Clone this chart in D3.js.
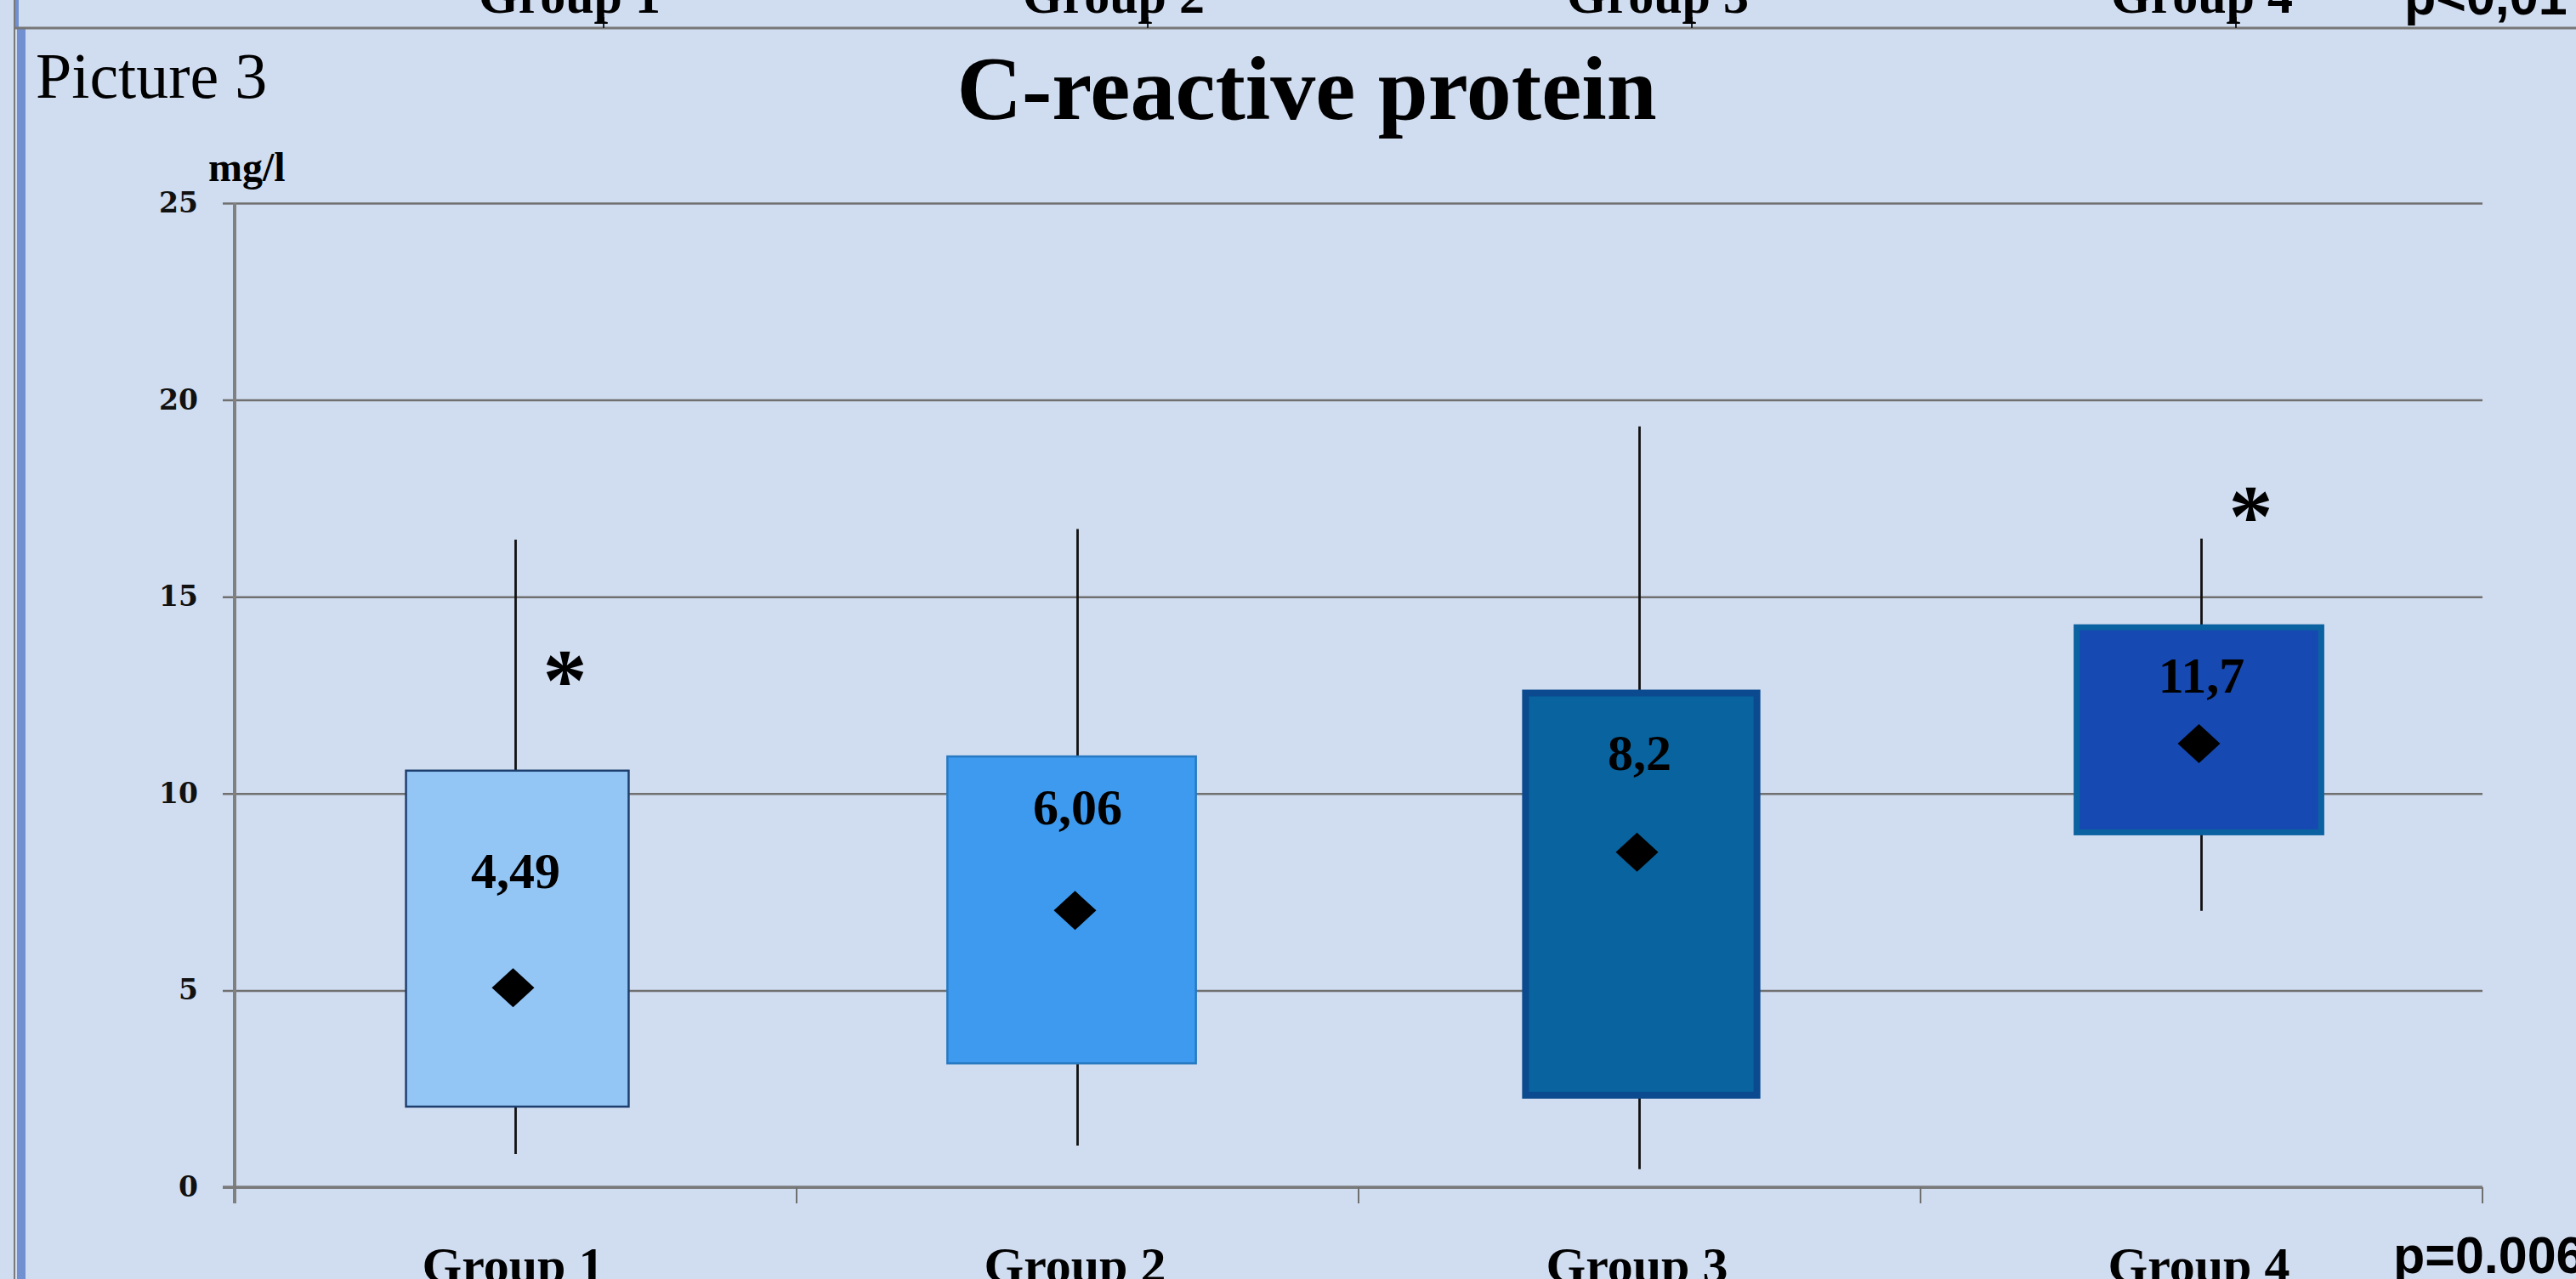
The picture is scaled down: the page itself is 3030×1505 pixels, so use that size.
<!DOCTYPE html>
<html>
<head>
<meta charset="utf-8">
<title>C-reactive protein</title>
<style>
  html, body { margin: 0; padding: 0; background: #d0dcef; }
  svg { display: block; }
  .serif { font-family: "Liberation Serif", "Times New Roman", serif; }
  .sans { font-family: "Liberation Sans", Arial, sans-serif; font-weight: bold; }
  .grid text { font-family: "DejaVu Serif", serif; font-weight: bold; font-size: 33px; fill: #111; }
  .grid line { stroke: #707070; stroke-width: 2.5; }
</style>
<script src="https://cdn.jsdelivr.net/npm/d3@7"></script>
</head>
<body>
<svg width="3030" height="1505"></svg>
<script>
// data
const groups = ["Group 1", "Group 2", "Group 3", "Group 4"];
const whiskerMin = [0.84, 1.06, 0.46, 7.02];
const boxLow = [2.02, 3.12, 2.25, 8.94];
const boxHigh = [10.61, 10.97, 12.64, 14.3];
const whiskerMax = [16.45, 16.72, 19.33, 16.48];
const means = [5.07, 7.03, 8.51, 11.27];
const valueLabels = ["4,49", "6,06", "8,2", "11,7"];
const valueLabelAt = [7.6, 9.22, 10.6, 12.56];
const starGroups = ["Group 1", "Group 4"];
const starAt = [13.18, 17.34];
const yTicks = [0, 5, 10, 15, 20, 25];
const pValue = "p=0.006";
// bottom edge of the previous figure, cut off at the top of the page
const prevGroups = ["Group 1", "Group 2", "Group 3", "Group 4"];
const prevPValue = "p<0,01";

// styles
const fills = ["#93c5f5", "#3d9aef", "#08639e", "#164ab2"];
const strokes = ["#1d3f6e", "#2779c2", "#0b4a8e", "#0b62a0"];
const strokeW = [2.5, 2.5, 8, 7];
const boxFrac = [0.40, 0.446, 0.424, 0.446];
const boxShift = [2, -7, 2, -3];

const svg = d3.select('svg');
const W = +svg.attr('width'), H = +svg.attr('height');

svg.append('rect').attr('width', W).attr('height', H).attr('fill', '#d0dcef');

// page border on the left
svg.append('line').attr('x1', 17).attr('x2', 17).attr('y1', 0).attr('y2', H)
    .attr('stroke', '#7a7a7a').attr('stroke-width', 2);
svg.append('rect').attr('x', 20).attr('y', 34).attr('width', 10).attr('height', H - 34)
    .attr('fill', '#7090d0');
svg.append('rect').attr('x', 18).attr('y', 0).attr('width', 4).attr('height', 34)
    .attr('fill', '#7090d0');

// strip of the previous figure
const xPrev = d3.scalePoint().domain(prevGroups).range([670, 2590]);
svg.append('line').attr('x1', 17).attr('x2', W).attr('y1', 33).attr('y2', 33)
    .attr('stroke', '#777').attr('stroke-width', 3);
svg.selectAll('.prevTick').data(prevGroups).enter().append('line')
    .attr('class', 'prevTick')
    .attr('x1', d => xPrev(d) + 40).attr('x2', d => xPrev(d) + 40)
    .attr('y1', 20).attr('y2', 33)
    .attr('stroke', '#222').attr('stroke-width', 2);
svg.selectAll('.prevLabel').data(prevGroups).enter().append('text')
    .attr('class', 'prevLabel serif')
    .attr('x', d => xPrev(d)).attr('y', 15)
    .attr('text-anchor', 'middle')
    .attr('font-size', 60).attr('font-weight', 'bold')
    .text(d => d);
svg.append('text').attr('class', 'sans')
    .attr('x', 2828).attr('y', 17).attr('font-size', 61)
    .text(prevPValue);

// titles
svg.append('text').attr('class', 'serif')
    .attr('x', 42).attr('y', 115).attr('font-size', 76)
    .text('Picture 3');
svg.append('text').attr('class', 'serif')
    .attr('x', 1537).attr('y', 140).attr('font-size', 106)
    .attr('font-weight', 'bold').attr('text-anchor', 'middle')
    .text('C-reactive protein');
svg.append('text').attr('class', 'serif')
    .attr('x', 245).attr('y', 213).attr('font-size', 48)
    .attr('font-weight', 'bold')
    .text('mg/l');

// scales
const x = d3.scaleBand().domain(groups).range([276, 2920]).padding(0);
const y = d3.scaleLinear().domain([0, 25]).range([1397, 239]);
const cx = g => x(g) + x.bandwidth() / 2;

// gridlines + tick labels
const gridLeft = 262;
svg.append('g')
    .attr('class', 'grid')
    .attr('transform', `translate(${gridLeft},0)`)
    .call(d3.axisLeft(y).tickValues(yTicks).tickSize(-(x.range()[1] - gridLeft)).tickPadding(29))
    .call(g => g.select('.domain').remove());

// axes
svg.append('line')
    .attr('x1', x.range()[0]).attr('x2', x.range()[0])
    .attr('y1', y(25)).attr('y2', y(0) + 19)
    .attr('stroke', '#808080').attr('stroke-width', 4);
svg.append('line')
    .attr('x1', gridLeft).attr('x2', x.range()[1])
    .attr('y1', y(0)).attr('y2', y(0))
    .attr('stroke', '#7a7a7a').attr('stroke-width', 3.5);
const bounds = groups.map(g => x(g)).concat([x.range()[1]]);
svg.selectAll('.xtick').data(bounds.slice(1)).enter().append('line')
    .attr('class', 'xtick')
    .attr('x1', d => d).attr('x2', d => d)
    .attr('y1', y(0)).attr('y2', y(0) + 19)
    .attr('stroke', '#707070').attr('stroke-width', 2);
svg.selectAll('.xlabel').data(groups).enter().append('text')
    .attr('class', 'xlabel serif')
    .attr('x', d => cx(d) - 3).attr('y', 1509)
    .attr('text-anchor', 'middle')
    .attr('font-size', 60).attr('font-weight', 'bold')
    .text(d => d);
svg.append('text').attr('class', 'sans')
    .attr('x', 2815).attr('y', 1498).attr('font-size', 61)
    .text(pValue);

// whiskers
svg.selectAll('.whisker').data(groups).enter().append('line')
    .attr('class', 'whisker')
    .attr('x1', d => cx(d)).attr('x2', d => cx(d))
    .attr('y1', (d, i) => y(whiskerMax[i])).attr('y2', (d, i) => y(whiskerMin[i]))
    .attr('stroke', '#111').attr('stroke-width', 2.8);

// boxes
svg.selectAll('.box').data(groups).enter().append('rect')
    .attr('class', 'box')
    .attr('x', (d, i) => cx(d) + boxShift[i] - boxFrac[i] * x.bandwidth() / 2 + strokeW[i] / 2)
    .attr('y', (d, i) => y(boxHigh[i]) + strokeW[i] / 2)
    .attr('width', (d, i) => boxFrac[i] * x.bandwidth() - strokeW[i])
    .attr('height', (d, i) => y(boxLow[i]) - y(boxHigh[i]) - strokeW[i])
    .attr('fill', (d, i) => fills[i])
    .attr('stroke', (d, i) => strokes[i])
    .attr('stroke-width', (d, i) => strokeW[i]);

// means
svg.selectAll('.mean').data(groups).enter().append('path')
    .attr('class', 'mean')
    .attr('d', (d, i) => {
        const mx = cx(d) - 3, my = y(means[i]);
        return `M${mx - 25},${my}L${mx},${my - 23}L${mx + 25},${my}L${mx},${my + 23}Z`;
    })
    .attr('fill', '#000');

// value labels
svg.selectAll('.val').data(groups).enter().append('text')
    .attr('class', 'val serif')
    .attr('x', d => cx(d))
    .attr('y', (d, i) => y(valueLabelAt[i]))
    .attr('text-anchor', 'middle')
    .attr('font-size', 60).attr('font-weight', 'bold')
    .text((d, i) => valueLabels[i]);

// significance marks
svg.selectAll('.star').data(starGroups).enter().append('text')
    .attr('class', 'star serif')
    .attr('x', d => cx(d) + 58)
    .attr('y', (d, i) => y(starAt[i]) + 48)
    .attr('text-anchor', 'middle')
    .attr('font-size', 104).attr('font-weight', 'bold')
    .text('*');
</script>
</body>
</html>
